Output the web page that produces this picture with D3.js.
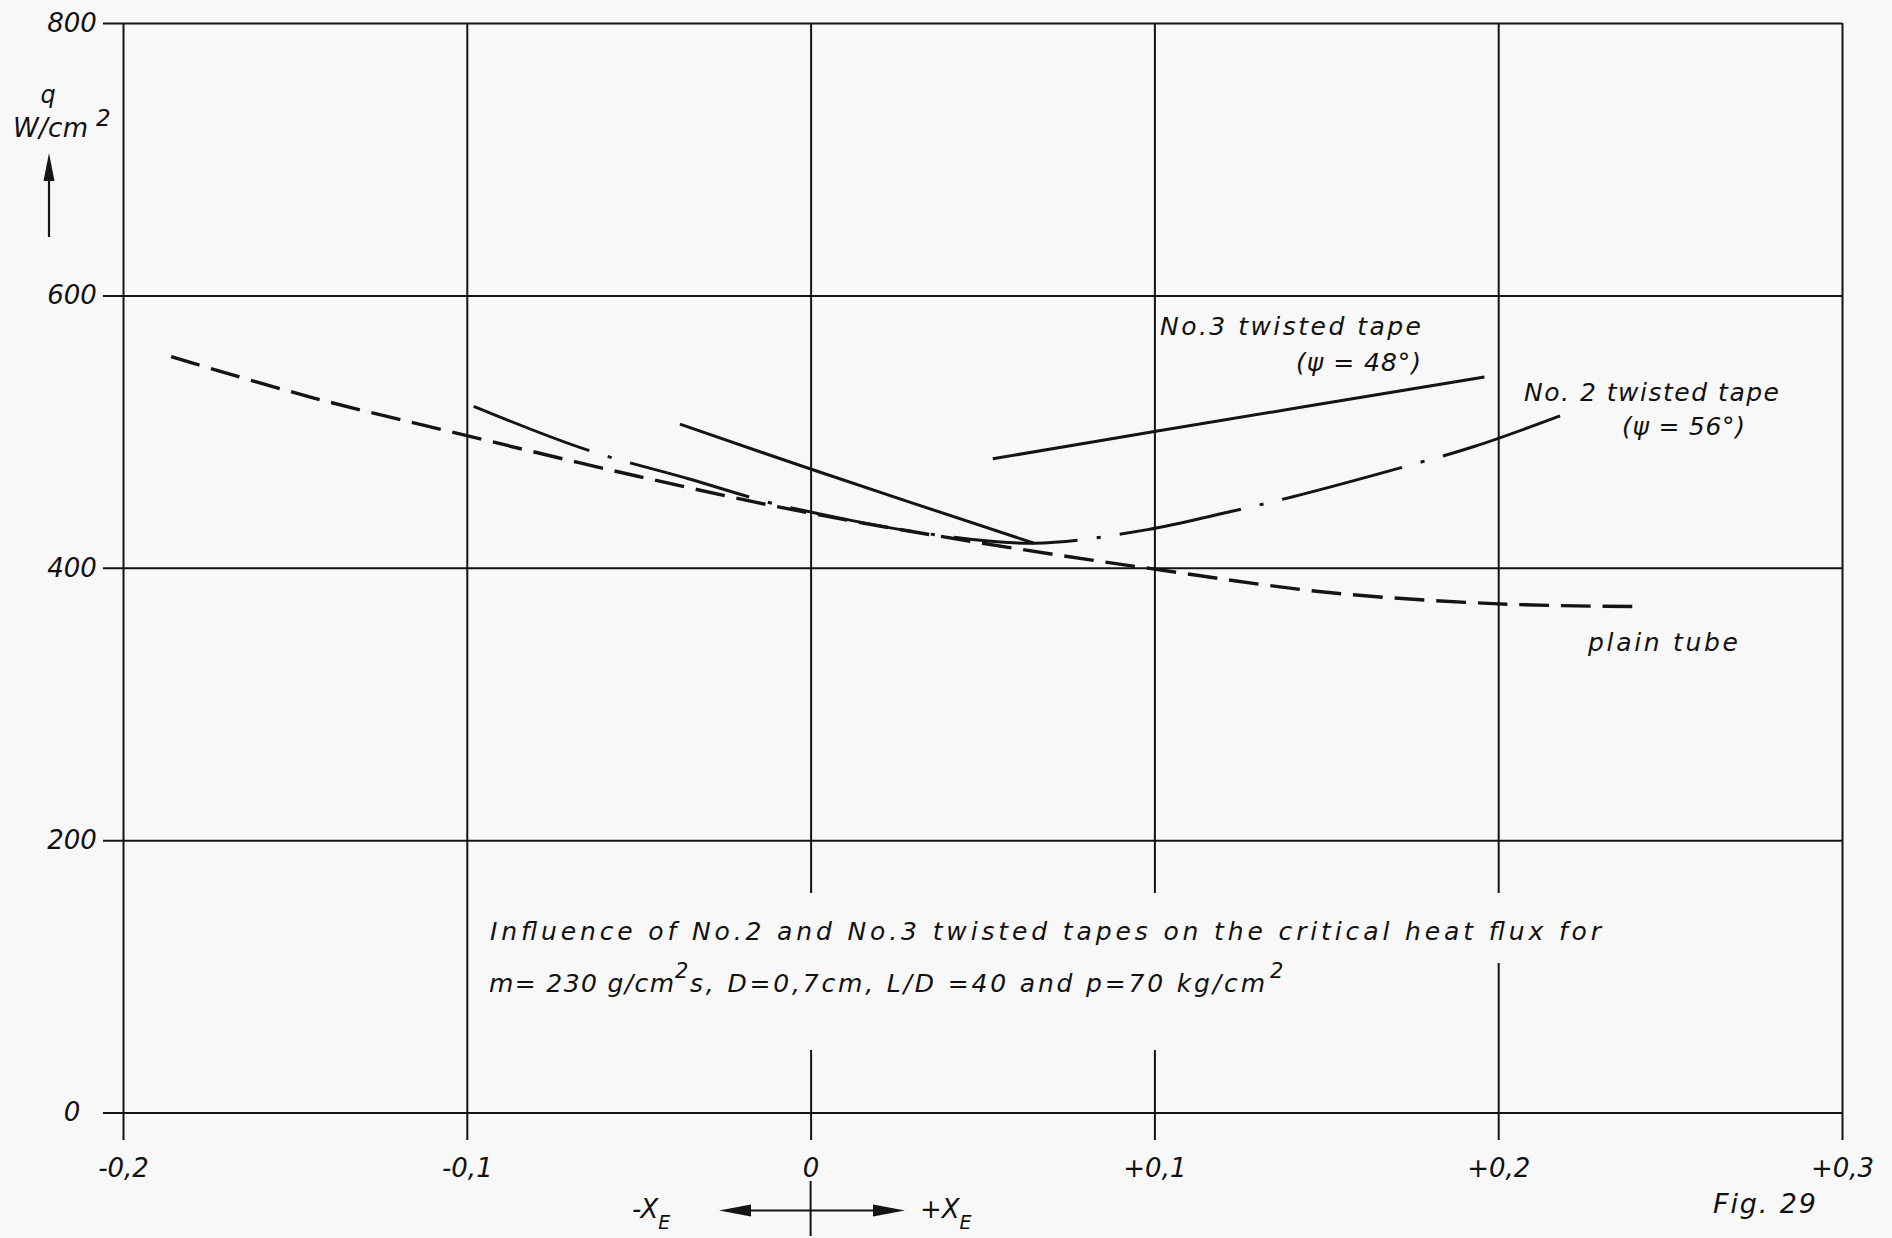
<!DOCTYPE html>
<html>
<head>
<meta charset="utf-8">
<script src="https://cdn.jsdelivr.net/npm/d3@7"></script>
<style>
  html, body { margin: 0; padding: 0; background: #f8f8f8; }
  svg { display: block; }
  text { font-family: "DejaVu Sans", "Liberation Sans", sans-serif; font-style: italic; fill: #111; }
</style>
</head>
<body>
<svg id="chart" width="1892" height="1238"></svg>
<script>
// Steam quality at the outlet (x_E) and critical heat flux q in W/cm²
const xTicks = [-0.2, -0.1, 0, 0.1, 0.2, 0.3];
const xTickLabels = ["-0,2", "-0,1", "0", "+0,1", "+0,2", "+0,3"];
const yTicks = [0, 200, 400, 600, 800];
const yTickLabels = ["0", "200", "400", "600", "800"];

// plain tube (dashed)
const plainX = [-0.186, -0.145, -0.1, -0.05, 0, 0.05, 0.1, 0.15, 0.2, 0.239];
const plainQ = [555, 525, 497, 467, 440, 418, 399, 382, 373.5, 371.5];

// No. 2 twisted tape, psi = 56° (dash-dot)
const no2X = [-0.098, -0.065, -0.035, -0.013, 0, 0.030, 0.065, 0.098, 0.120, 0.140, 0.171, 0.193, 0.218];
const no2Q = [518.5, 486.5, 465, 448.5, 441, 426.5, 418, 428, 440, 452, 473, 489, 511.5];

// No. 3 twisted tape, psi = 48° (solid): subcooled branch and quality branch
const no3SubX = [-0.038, 0, 0.065];
const no3SubQ = [505.5, 472.5, 418];
const no3QualX = [0.053, 0.1, 0.196];
const no3QualQ = [480, 500, 540];

const FONT = "DejaVu Sans, Liberation Sans, sans-serif";
const svg = d3.select("#chart");
const W = 1892, H = 1238;
const plot = { left: 123, right: 1842, top: 23, bottom: 1112.5 };
const ink = "#141414";
const paper = "#f8f8f8";

svg.append("rect").attr("width", W).attr("height", H).attr("fill", paper);

const x = d3.scaleLinear().domain([-0.2, 0.3]).range([plot.left, plot.right]);
const y = d3.scaleLinear().domain([0, 800]).range([plot.bottom, plot.top]);

const styleTickText = sel => sel
  .attr("font-size", 26)
  .attr("font-family", FONT)
  .attr("font-style", "italic")
  .attr("fill", "#111");

// horizontal grid with value labels
const gridLeft = 103;
const yAxis = d3.axisLeft(y)
  .tickValues(yTicks)
  .tickFormat((d, i) => yTickLabels[i])
  .tickSizeInner(-(plot.right - gridLeft))
  .tickSizeOuter(0)
  .tickPadding(31);
const gy = svg.append("g").attr("transform", `translate(${gridLeft},0)`).call(yAxis);
gy.select(".domain").remove();
gy.selectAll(".tick line").attr("stroke", ink).attr("stroke-width", 2);
gy.selectAll(".tick text").attr("text-anchor", "middle").call(styleTickText);

// vertical grid with quality labels
const tickBottom = 1140;
const xAxis = d3.axisBottom(x)
  .tickValues(xTicks)
  .tickFormat((d, i) => xTickLabels[i])
  .tickSizeInner(tickBottom - plot.top)
  .tickSizeOuter(0)
  .tickPadding(19);
const gx = svg.append("g").attr("transform", `translate(0,${plot.top})`).call(xAxis);
gx.select(".domain").remove();
gx.selectAll(".tick line").attr("stroke", ink).attr("stroke-width", 2);
gx.selectAll(".tick text").call(styleTickText);

// caption block (clears the grid lines behind it)
const cap = svg.append("g");
const capText = (tx, ty, str, size, len) => {
  const t = cap.append("text").attr("x", tx).attr("y", ty).attr("font-size", size).text(str);
  if (len) t.attr("textLength", len).attr("lengthAdjust", "spacing");
  return t;
};
const capLine1 = capText(490, 940, "Influence of No.2 and No.3 twisted tapes on the critical heat flux for", 25, 1111);
capText(489, 992, "m= 230 g/cm", 25, 185);
capText(675, 978, "2", 21);
capText(690, 992, "s, D=0,7cm, L/D =40 and p=70 kg/cm", 25, 575);
const capSupB = capText(1270, 978, "2", 21);

const b1 = capLine1.node().getBBox();
const b2 = capSupB.node().getBBox();
cap.insert("rect", ":first-child")
  .attr("x", b1.x - 14).attr("y", 893)
  .attr("width", b1.width + 28).attr("height", 70)
  .attr("fill", paper);
cap.insert("rect", ":first-child")
  .attr("x", b1.x - 14).attr("y", 893)
  .attr("width", (b2.x + b2.width) - b1.x + 30).attr("height", 157)
  .attr("fill", paper);

// curves
const line = d3.line().x(d => x(d[0])).y(d => y(d[1])).curve(d3.curveCatmullRom.alpha(0.5));
const zip = (a, b) => a.map((v, i) => [v, b[i]]);

// stretch a dash pattern so the stroke starts and ends on a full dash
const fitDash = (path, pattern) => {
  const L = path.node().getTotalLength();
  const period = d3.sum(pattern);
  const n = Math.max(1, Math.round((L - pattern[0]) / period));
  const k = L / (n * period + pattern[0]);
  path.attr("stroke-dasharray", pattern.map(v => (v * k).toFixed(2)).join(" "));
};

const plainPath = svg.append("path").datum(zip(plainX, plainQ))
  .attr("d", line).attr("fill", "none").attr("stroke", ink)
  .attr("stroke-width", 3.4);
fitDash(plainPath, [30, 12]);

const no2Path = svg.append("path").datum(zip(no2X, no2Q))
  .attr("d", line).attr("fill", "none").attr("stroke", ink)
  .attr("stroke-width", 3);
fitDash(no2Path, [122, 19, 4, 19]);

[zip(no3SubX, no3SubQ), zip(no3QualX, no3QualQ)].forEach(seg => {
  svg.append("path").datum(seg)
    .attr("d", line).attr("fill", "none").attr("stroke", ink)
    .attr("stroke-width", 3);
});

// curve labels
const label = (tx, ty, len, str, size = 25) =>
  svg.append("text").attr("x", tx).attr("y", ty).attr("font-size", size)
    .attr("textLength", len).attr("lengthAdjust", "spacing").text(str);

label(1160, 335, 261, "No.3 twisted tape");
label(1296, 371, 125, "(ψ = 48°)");
label(1524, 401, 255, "No. 2 twisted tape");
label(1622, 435, 123, "(ψ = 56°)");
label(1588, 651, 150, "plain tube");
label(1713, 1213, 103, "Fig. 29", 27);

// q axis title with upward arrow
svg.append("text").attr("x", 48).attr("y", 103).attr("text-anchor", "middle")
  .attr("font-size", 24).text("q");
label(13, 137, 75, "W/cm", 26);
svg.append("text").attr("x", 96).attr("y", 126).attr("font-size", 23).text("2");
svg.append("line").attr("x1", 49).attr("x2", 49).attr("y1", 237).attr("y2", 172)
  .attr("stroke", ink).attr("stroke-width", 2.2);
svg.append("path").attr("d", "M49,153 L43.5,181 L54.5,181 Z").attr("fill", ink);

// x_E direction indicator below the zero of quality
const x0 = x(0);
svg.append("line").attr("x1", x0).attr("x2", x0).attr("y1", 1181).attr("y2", 1236)
  .attr("stroke", ink).attr("stroke-width", 2);
svg.append("line").attr("x1", 748).attr("x2", 877).attr("y1", 1210.5).attr("y2", 1210.5)
  .attr("stroke", ink).attr("stroke-width", 2);
svg.append("path").attr("d", "M719,1210.5 L751,1204.5 L751,1216.5 Z").attr("fill", ink);
svg.append("path").attr("d", "M905,1210.5 L873,1204.5 L873,1216.5 Z").attr("fill", ink);

const xe = (tx, sign) => {
  const t = svg.append("text").attr("x", tx).attr("y", 1218).attr("font-size", 26);
  t.append("tspan").text(sign + "X");
  t.append("tspan").attr("dy", 11).attr("font-size", 19).text("E");
};
xe(632, "-");
xe(920, "+");
</script>
</body>
</html>
